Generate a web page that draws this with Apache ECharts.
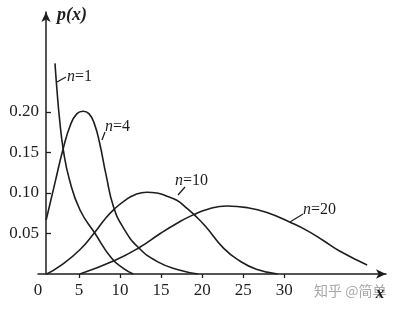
<!DOCTYPE html>
<html>
<head>
<meta charset="utf-8">
<script src="https://cdn.jsdelivr.net/npm/echarts@6/dist/echarts.min.js"></script>
<style>
  html, body { margin: 0; padding: 0; background: #fff; }
  #chart { width: 394px; height: 309px; }
</style>
</head>
<body>
<div id="chart"></div>
<script>
// Curve data [x, p(x)]
const curveN1 = [[2.07,0.260],[2.32,0.226],[2.6,0.194],[3.09,0.153],[3.84,0.116],[5.12,0.079],[6.95,0.050],[9.0,0.019],[10.4,0.007],[11.6,0.0]];
const curveN4 = [[1.0,0.067],[2.1,0.114],[3.05,0.154],[3.95,0.184],[4.75,0.198],[5.5,0.201],[6.2,0.198],[6.85,0.186],[7.5,0.162],[8.3,0.122],[9.2,0.083],[10.4,0.057],[12.2,0.033],[14.6,0.015],[17.2,0.005],[19.5,0.0]];
const curveN10 = [[1.06,0.0],[2.7,0.010],[5.1,0.030],[6.95,0.052],[8.17,0.068],[9.39,0.081],[10.61,0.091],[11.83,0.098],[13.26,0.101],[14.48,0.100],[15.7,0.096],[16.91,0.091],[17.93,0.083],[19.15,0.072],[20.4,0.059],[22.6,0.032],[24.6,0.016],[26.6,0.006],[29.2,0.0]];
const curveN20 = [[5.1,0.0],[9.4,0.017],[12.4,0.033],[14.9,0.050],[17.0,0.063],[18.9,0.073],[20.7,0.080],[23.0,0.084],[25.5,0.082],[27.9,0.076],[30.7,0.064],[32.9,0.053],[34.8,0.041],[36.8,0.028],[40.1,0.011]];
const seriesNames = ['n=1','n=4','n=10','n=20'];
const xTickValues = [5,10,15,20,25,30];
const xLabelValues = [0,5,10,15,20,25,30];
const yTickValues = [0.05,0.10,0.15,0.20];
const xMax = 42.4;
const yMax = 0.3235;

const ink = '#1e1e1e';
const serif = "'Liberation Serif', 'DejaVu Serif', serif";

const chart = echarts.init(document.getElementById('chart'), null, { renderer: 'canvas' });

function lineSeries(name, data) {
  return {
    name: name, type: 'line', data: data, smooth: 0.5,
    showSymbol: false, symbol: 'none', silent: true,
    lineStyle: { color: ink, width: 1.6 }
  };
}

function label(text, x, y) {
  return {
    type: 'text', x: x, y: y,
    style: {
      text: '{i|n}' + text, fill: ink, font: '16px ' + serif,
      align: 'left', verticalAlign: 'middle',
      rich: { i: { fontStyle: 'italic', fontFamily: serif, fontSize: 16, fill: ink } }
    }
  };
}
function leader(x1, y1, x2, y2) {
  return { type: 'line', shape: { x1: x1, y1: y1, x2: x2, y2: y2 }, style: { stroke: ink, lineWidth: 1.3 } };
}

chart.setOption({
  animation: false,
  backgroundColor: '#fff',
  grid: { left: 38, right: 8, top: 12, bottom: 35 },
  xAxis: {
    type: 'value', min: 0, max: xMax,
    axisLine: { show: true, onZero: false, symbol: ['none', 'arrow'], symbolSize: [7, 10], lineStyle: { color: ink, width: 1.5 } },
    axisTick: { show: true, inside: false, length: 4, customValues: xTickValues, lineStyle: { color: ink, width: 1.3 } },
    axisLabel: { customValues: xLabelValues, margin: 8, color: ink, fontFamily: serif, fontSize: 17 },
    splitLine: { show: false }
  },
  yAxis: {
    type: 'value', min: 0, max: yMax, offset: -8,
    axisLine: { show: true, onZero: false, symbol: ['none', 'arrow'], symbolSize: [7, 10], lineStyle: { color: ink, width: 1.5 } },
    axisTick: { show: true, inside: true, length: 5, customValues: yTickValues, lineStyle: { color: ink, width: 1.3 } },
    axisLabel: { customValues: yTickValues, margin: 7, color: ink, fontFamily: serif, fontSize: 17,
      formatter: function (v) { return v.toFixed(2); } },
    splitLine: { show: false }
  },
  series: [
    lineSeries(seriesNames[0], curveN1),
    lineSeries(seriesNames[1], curveN4),
    lineSeries(seriesNames[2], curveN10),
    lineSeries(seriesNames[3], curveN20)
  ],
  graphic: [
    { type: 'text', x: 57, y: 15, style: { text: 'p(x)', fill: ink, font: 'italic bold 18px ' + serif, align: 'left', verticalAlign: 'middle' } },
    { type: 'text', x: 314, y: 291, style: { text: '知乎 @简单', fill: '#a8a8a8', font: "14px 'Noto Sans CJK SC'", align: 'left', verticalAlign: 'middle' } },
    { type: 'text', x: 380, y: 294, style: { text: 'x', fill: ink, font: 'italic bold 17px ' + serif, align: 'center', verticalAlign: 'middle' } },
    leader(57, 82, 66, 77), label('=1', 67, 77),
    leader(102, 140, 105, 132), label('=4', 105, 127),
    leader(178, 195, 185, 187), label('=10', 175, 181),
    leader(290, 222, 303, 214), label('=20', 303, 210)
  ]
});
</script>
</body>
</html>
